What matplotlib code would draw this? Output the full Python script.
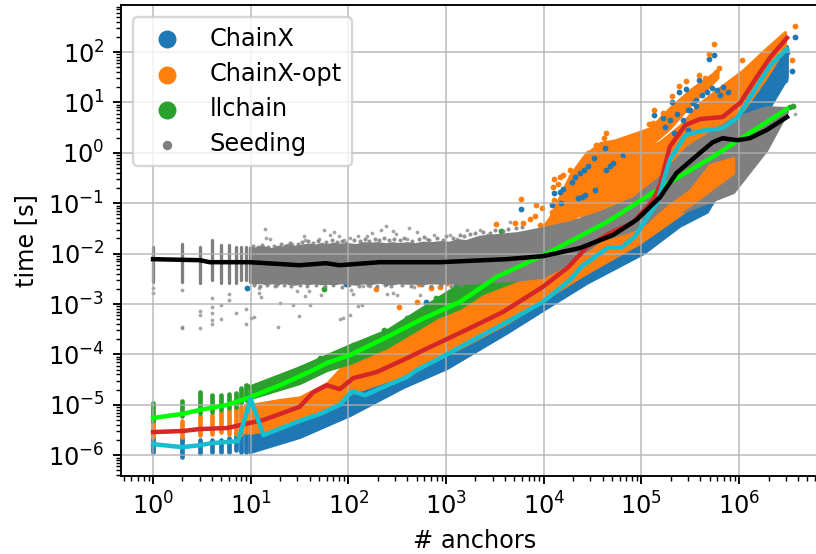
import numpy as np
import matplotlib
matplotlib.use('Agg')
import matplotlib.pyplot as plt
from matplotlib.ticker import LogLocator, NullFormatter

# all values below are log10 of (# anchors) and log10 of (time [s])

# median lines
black_x = [0, .48, .58, .99, 1.50, 1.77, 1.91, 2.32, 2.94, 3.62, 3.99, 4.37, 4.71, 4.95, 5.19, 5.36, 5.60, 5.73, 5.83, 5.98, 6.11, 6.28, 6.49]
black_y = [-2.11, -2.13, -2.17, -2.17, -2.23, -2.19, -2.23, -2.17, -2.17, -2.11, -2.05, -1.89, -1.63, -1.33, -.88, -.40, 0, .21, .29, .25, .29, .45, .71]
lime_x = [0, .30, .48, .76, .99, 1.30, 1.64, 1.78, 2.02, 2.40, 2.73, 3.14, 3.52, 4.06, 4.65, 5.19, 5.73, 6.49]
lime_y = [-5.26, -5.18, -5.10, -5.0, -4.85, -4.61, -4.31, -4.17, -4.01, -3.65, -3.32, -2.96, -2.46, -1.97, -1.37, -.70, -.08, .87]
red_x = [0, .30, .48, .76, .99, 1.13, 1.50, 1.64, 1.78, 1.91, 2.05, 2.29, 2.56, 2.84, 3.21, 3.58, 3.99, 4.25, 4.44, 4.68, 4.91, 5.12, 5.19, 5.29, 5.45, 5.60, 5.83, 6.01, 6.18, 6.32, 6.49]
red_y = [-5.54, -5.52, -5.48, -5.46, -5.36, -5.30, -5.04, -4.75, -4.61, -4.69, -4.47, -4.35, -4.11, -3.85, -3.51, -3.16, -2.66, -2.27, -1.87, -1.59, -1.39, -.94, -.64, .12, .55, .67, .71, .99, 1.50, 1.90, 2.28]
cyan_x = [0, .30, .48, .60, .87, 1.00, 1.13, 1.50, 1.71, 1.91, 2.04, 2.17, 2.40, 2.60, 2.70, 2.94, 3.28, 3.60, 3.99, 4.27, 4.39, 4.65, 4.80, 4.93, 5.09, 5.16, 5.29, 5.45, 5.60, 5.83, 5.98, 6.14, 6.32, 6.49]
cyan_y = [-5.78, -5.84, -5.80, -5.76, -5.72, -4.88, -5.60, -5.32, -5.18, -5.0, -4.73, -4.81, -4.61, -4.45, -4.31, -4.07, -3.71, -3.38, -2.96, -2.52, -2.25, -1.89, -1.87, -1.67, -1.19, -1.0, -.14, .35, .43, .49, .69, 1.19, 1.74, 2.06]

# columns of points at 1..9 anchors
col_x = [1, 2, 3, 4, 5, 6, 7, 8, 9]
col_gray_lo = [-2.56, -2.56, -2.59, -2.52, -2.59, -2.59, -2.59, -2.52, -2.52]
col_gray_hi = [-1.86, -1.80, -1.86, -1.73, -1.83, -1.83, -1.86, -1.86, -1.86]
col_blue_lo = [-5.93, -6.03, -5.96, -5.93, -5.93, -5.93, -5.90, -5.93, -5.93]
col_blue_hi = [-5.66, -5.66, -5.70, -5.70, -5.70, -5.66, -5.60, -5.57, -5.57]
col_orange_lo = [-5.63, -5.63, -5.60, -5.57, -5.53, -5.57, -5.57, -5.57, -5.53]
col_orange_hi = [-5.30, -5.33, -5.23, -5.20, -5.14, -5.10, -5.04, -5.04, -5.00]
col_green_lo = [-5.33, -5.23, -5.17, -5.14, -5.10, -5.07, -5.04, -4.97, -4.90]
col_green_hi = [-4.97, -4.92, -4.75, -4.80, -4.80, -4.79, -4.77, -4.67, -4.61]

# dense parts of the clouds
blue_x = [.99, 1.50, 2.02, 2.56, 3.01, 3.62, 3.99, 4.44, 5.02, 5.39, 5.67, 6.49]
blue_lo = [-5.94, -5.64, -5.20, -4.65, -4.27, -3.57, -3.12, -2.58, -1.99, -1.45, -1.17, 1.49]
blue_hi = [-5.54, -5.30, -4.75, -4.39, -3.95, -3.36, -2.88, -2.36, -1.73, -.74, .06, 2.12]
orange_x = [.99, 1.30, 1.50, 1.78, 2.02, 2.56, 3.14, 3.62, 3.99, 4.44, 4.98, 5.32, 5.60]
orange_lo = [-5.56, -5.46, -5.30, -5.06, -4.77, -4.41, -3.87, -3.38, -2.92, -2.38, -1.79, -1.33, -.94]
orange_hi = [-5.0, -4.90, -4.85, -4.57, -4.07, -3.61, -3.12, -2.56, -2.42, -1.73, -.94, -.54, .06]
stripe_a_x = [3.86, 4.06, 4.27, 4.42, 4.58, 4.73, 4.88, 5.09, 5.29, 5.50, 5.78]
stripe_a_hi = [-1.79, -1.29, -.44, -.04, .20, .25, .35, .49, .89, 1.25, 1.64]
stripe_a_lo = [-2.2, -2.0, -1.43, -1.03, -.64, -.24, -.04, .15, .49, .95, 1.49]
stripe_b_x = [4.34, 4.47, 4.61, 4.78, 4.98, 5.19, 5.40, 5.60, 5.80, 6.04, 6.26, 6.47]
stripe_b_hi = [-.78, -.44, -.14, -.10, -.0, .22, .55, .99, 1.29, 1.64, 2.04, 2.40]
stripe_b_lo = [-1.23, -1.30, -1.30, -1.30, -.85, -.50, -.10, .30, .55, .85, 1.45, 2.10]
patch_x = [5.09, 5.29, 5.50, 5.70, 5.94]
patch_hi = [-1.37, -1.03, -.74, -.24, -.10]
patch_lo = [-1.57, -1.29, -1.03, -.74, -.40]
green_x = [.99, 1.50, 1.78, 2.02, 2.40, 2.91, 3.14, 3.38, 3.73]
green_hi = [-4.63, -4.25, -4.01, -3.81, -3.51, -2.88, -2.60, -2.52, -2.50]
green_lo = [-4.87, -4.57, -4.31, -4.17, -3.85, -3.26, -3.08, -2.78, -2.52]
gray_x = [.99, 1.04, 1.10, 1.15, 1.22, 1.28, 1.33, 1.38, 1.45, 1.52, 1.58, 1.66, 1.72, 1.78, 1.85, 1.92, 2.0, 2.08, 2.15, 2.22, 2.3, 2.38, 2.45, 2.52, 2.6, 2.68, 2.76, 2.84, 2.94, 3.03, 3.12, 3.2, 3.28, 3.35,
          3.73, 3.99, 4.27, 4.58, 4.91, 5.19, 5.47, 5.94, 6.28, 6.49]
gray_hi = [-1.88, -1.90, -1.87, -1.88, -1.91, -1.86, -1.88, -1.84, -1.86, -1.84, -1.82, -1.84, -1.81, -1.83, -1.80, -1.82, -1.81, -1.83, -1.79, -1.80, -1.79, -1.81, -1.79, -1.81, -1.79, -1.81, -1.78, -1.79, -1.77, -1.78, -1.73, -1.75, -1.70, -1.66,
           -1.59, -1.49, -1.37, -1.17, -.90, -.48, .12, .69, .91, .89]
gray_lo = [-2.56, -2.58, -2.56, -2.59, -2.57, -2.59, -2.56, -2.58, -2.60, -2.57, -2.59, -2.57, -2.59, -2.58, -2.59, -2.57, -2.58, -2.60, -2.57, -2.59, -2.56, -2.58, -2.59, -2.57, -2.58, -2.58, -2.59, -2.57, -2.58, -2.57, -2.59, -2.58, -2.58, -2.56,
           -2.52, -2.46, -2.17, -1.73, -1.53, -1.23, -1.14, -.78, .06, .81]

# single points
gray_pts_x = [1.15, 1.16, 1.20, 1.13, 1.42, 1.55, 1.56, 1.75, 1.70, 1.81, 1.85, 1.90, 1.95, 2.02, 2.10, 2.19, 2.24, 2.33, 2.39, 2.46, 2.49, 2.62, 2.70, 2.80, 2.88, 3.04, 3.21, 3.35, 3.42, 3.65, 3.69, 3.11, 2.60, 1.37, 1.61, 1.73,
              1.08, 1.08, 1.11, 1.30, 1.43, 1.61, 1.47, 1.56, 1.60, 1.72, 2.03, 2.05, 2.10, 2.14, 2.15, 2.22, 2.40, 2.46, 2.50, 2.67, 1.39, 1.27, 2.73,
              .30, .30, .30, .48, .48, .48, .60, .60, .60, .60, .60, .70, .70, .78, .78, .85, .95, .95, 0, 0, 1.03, 1.0, 1.49, 1.28, 1.91, 1.94, 2.02, 6.57]
gray_pts_y = [-1.52, -1.68, -1.71, -1.86, -1.80, -1.66, -1.73, -1.53, -1.71, -1.63, -1.58, -1.66, -1.73, -1.68, -1.66, -1.66, -1.60, -1.53, -1.45, -1.56, -1.62, -1.50, -1.58, -1.71, -1.64, -1.63, -1.53, -1.53, -1.63, -1.37, -1.63, -1.70, -1.70, -1.83, -1.82, -1.80,
              -2.69, -2.79, -2.87, -2.97, -3.01, -3.01, -2.74, -2.85, -2.74, -2.82, -2.72, -2.81, -3.03, -3.01, -2.64, -2.64, -2.81, -2.79, -2.82, -2.66, -2.59, -2.62, -2.82,
              -3.45, -3.48, -2.72, -3.14, -3.22, -3.47, -2.89, -3.05, -3.18, -3.32, -3.40, -3.02, -3.30, -2.80, -2.92, -3.18, -3.10, -3.40, -2.69, -2.79, -3.26, -3.28, -3.24, -3.46, -3.30, -3.28, -3.22, .78]
# fuzz just outside the gray band
fuzz_x = [1.02, 1.07, 1.12, 1.18, 1.24, 1.31, 1.35, 1.40, 1.48, 1.53, 1.59, 1.64, 1.69, 1.77, 1.83, 1.88, 1.93, 1.98, 2.06, 2.12, 2.17, 2.21, 2.27, 2.31, 2.36, 2.42, 2.47, 2.53, 2.57, 2.65, 2.72, 2.77, 2.83, 2.91, 2.97, 3.0, 3.07, 3.14, 3.18, 3.24, 3.30, 3.38, 3.45, 3.50, 3.58, 3.63, 3.72, 3.78,
          1.03, 1.09, 1.17, 1.25, 1.34, 1.41, 1.50, 1.58, 1.67, 1.76, 1.84, 1.93, 2.01, 2.11, 2.2, 2.29, 2.37, 2.44, 2.55, 2.64, 2.75, 2.85, 2.95, 3.05, 3.15]
fuzz_y = [-1.84, -1.86, -1.83, -1.87, -1.84, -1.80, -1.84, -1.78, -1.80, -1.76, -1.75, -1.79, -1.74, -1.76, -1.72, -1.76, -1.74, -1.78, -1.73, -1.75, -1.71, -1.74, -1.70, -1.73, -1.69, -1.72, -1.70, -1.73, -1.69, -1.74, -1.70, -1.67, -1.72, -1.68, -1.72, -1.66, -1.68, -1.64, -1.66, -1.62, -1.60, -1.58, -1.60, -1.54, -1.56, -1.52, -1.50, -1.48,
          -2.62, -2.64, -2.62, -2.65, -2.62, -2.65, -2.62, -2.64, -2.62, -2.65, -2.62, -2.66, -2.62, -2.64, -2.62, -2.65, -2.63, -2.65, -2.62, -2.64, -2.62, -2.64, -2.62, -2.64, -2.62]
orange_pts_x = [3.77, 3.71, 3.79, 3.86, 3.91, 3.92, 3.98, 3.96, 4.10, 4.09, 4.10, 4.17, 4.20, 4.15, 4.08, 4.17, 4.22, 4.27, 4.53, 4.64, 4.62, 4.75, 4.71, 4.45, 4.85, 4.95, 4.80,
                4.27, 4.34, 4.39, 4.20, 4.47, 4.06,
                5.74, 5.69, 6.03, 6.57, 6.54, 5.38, 5.46, 5.59, 5.65, 5.13, 5.22, 5.31, 5.08, 5.12, 5.79, 5.76,
                2.28, 2.52, 2.70, 2.72, 2.85, 2.94, 3.01, 3.51, 3.18]
orange_pts_y = [-.92, -1.40, -1.40, -1.32, -1.25, -1.04, -1.10, -1.43, -.51, -.67, -.94, -.47, -.44, -.61, -1.17, -1.14, -1.17, -.34, .15, .39, .29, .19, .09, -.01, -.01, .06, -.14,
                -1.27, -1.20, -1.13, -1.30, -.94, -1.33,
                2.16, 1.97, 1.84, 2.52, 1.84, 1.33, 1.42, 1.54, 1.48, .84, .80, 1.13, .57, .60, 1.69, 1.61,
                -2.71, -3.05, -2.95, -2.60, -2.68, -2.66, -2.59, -1.42, -2.59]
blue_pts_x = [3.77, 4.10, 4.17, 4.20, 4.08, 4.18, 4.29, 4.32, 4.37, 4.41, 4.45, 4.51, 4.63, 4.64, 4.68, 4.35, 4.39, 4.42, 4.52, 4.81, 4.71,
              5.74, 5.69, 6.57, 6.54, 5.38, 5.46, 5.59, 5.31, 5.13, 5.22, 5.50, 5.43, 5.67, 5.72, 5.80, 5.89, 5.56, 5.48, 5.33, 6.42, 6.47, 6.49, 6.38, 6.35,
              .96, 1.98, 2.39, 2.79, 3.10,
              5.56, 5.62, 5.77, 5.84, 5.48, 5.53, 5.29, 5.36, 5.24]
blue_pts_y = [-1.12, -.80, -.77, -.72, -1.04, -1.0, -.57, -.47, -.41, -.34, -.26, -.11, .09, -.34, -.27, -.90, -.87, -.84, -.74, -.04, -.21,
              1.95, 1.87, 2.29, 1.63, 1.21, 1.26, 1.44, 1.01, .75, .70, .85, .65, 1.21, 1.28, 1.15, 1.21, .92, .45, .39, 1.34, 1.44, 2.01, 1.25, 1.15,
              -2.69, -2.60, -2.58, -2.95, -2.64,
              1.05, 1.15, 1.25, 1.31, .85, .98, .65, .78, .52]
green_pts_x = [1.75, 3.56, 6.55, 6.52, .96, 1.15, 1.30, 1.51, 1.71, 2.05, 2.36, 2.60, 2.90]
green_pts_y = [-2.71, -1.56, .93, .90, -4.63, -4.57, -4.47, -4.26, -4.08, -3.81, -3.51, -3.28, -2.89]

x_ticks = [1, 10, 100, 1000, 1e4, 1e5, 1e6]
y_ticks = [1e-6, 1e-5, 1e-4, 1e-3, 1e-2, 1e-1, 1, 10, 100]

plt.rcParams['font.size'] = 10.15
fig = plt.figure(figsize=(816 / 170, 554 / 170), dpi=170)
ax = fig.add_axes([121 / 816, 78 / 554, 707 / 816, 471 / 554])


def band(x, lo, hi, color, z):
    ax.fill_between(10.0 ** np.array(x), 10.0 ** np.array(lo), 10.0 ** np.array(hi),
                    color=color, lw=1.2, zorder=z)


def dots(x, y, color, size, z, alpha=1):
    ax.scatter(10.0 ** np.array(x), 10.0 ** np.array(y), s=size, color=color,
               linewidths=0, alpha=alpha, zorder=z)


def columns(lo, hi, color, z, width=2.0):
    ax.vlines(col_x, 10.0 ** np.array(lo), 10.0 ** np.array(hi), color=color,
              lw=width, capstyle='round', zorder=z)


band(blue_x, blue_lo, blue_hi, 'tab:blue', 1.1)
columns(col_blue_lo, col_blue_hi, 'tab:blue', 1.1)
band(orange_x, orange_lo, orange_hi, 'tab:orange', 1.2)
band(stripe_a_x, stripe_a_lo, stripe_a_hi, 'tab:orange', 1.2)
band(stripe_b_x, stripe_b_lo, stripe_b_hi, 'tab:orange', 1.2)
columns(col_orange_lo, col_orange_hi, 'tab:orange', 1.2)
dots(blue_pts_x, blue_pts_y, 'tab:blue', 6, 1.25)
dots(orange_pts_x, orange_pts_y, 'tab:orange', 6, 1.3)
band(green_x, green_lo, green_hi, 'tab:green', 1.3)
columns(col_green_lo, col_green_hi, 'tab:green', 1.3)
dots(green_pts_x, green_pts_y, 'tab:green', 6, 1.3)
band(gray_x, gray_lo, gray_hi, 'tab:gray', 1.4)
columns(col_gray_lo, col_gray_hi, 'tab:gray', 1.4, width=1.4)
dots(gray_pts_x, gray_pts_y, 'tab:gray', 2.5, 1.4, alpha=0.7)
dots(fuzz_x, fuzz_y, 'tab:gray', 3, 1.4, alpha=0.85)
band(patch_x, patch_lo, patch_hi, 'tab:orange', 1.5)

ax.plot(10.0 ** np.array(lime_x), 10.0 ** np.array(lime_y), color='lime', lw=1.9, zorder=5)
ax.plot(10.0 ** np.array(red_x), 10.0 ** np.array(red_y), color='tab:red', lw=1.9, zorder=5)
ax.plot(10.0 ** np.array(cyan_x), 10.0 ** np.array(cyan_y), color='tab:cyan', lw=1.9, zorder=5)
ax.plot(10.0 ** np.array(black_x), 10.0 ** np.array(black_y), color='black', lw=1.9, zorder=5)

ax.set_xscale('log')
ax.set_yscale('log')
ax.set_xticks(x_ticks)
ax.set_yticks(y_ticks)
ax.yaxis.set_minor_locator(LogLocator(base=10, subs=range(2, 10), numticks=12))
ax.yaxis.set_minor_formatter(NullFormatter())
ax.xaxis.set_minor_locator(LogLocator(base=10, subs=range(2, 10), numticks=12))
ax.xaxis.set_minor_formatter(NullFormatter())
ax.set_xlim(10 ** -0.328, 10 ** 6.91)
ax.set_ylim(10 ** -6.412, 10 ** 2.933)
ax.grid(True, color='#b0b0b0', alpha=0.7, lw=0.8, zorder=2.5)
ax.set_xlabel('# anchors')
ax.set_ylabel('time [s]')

ax.scatter([], [], s=58, color='tab:blue', linewidths=0, label='ChainX')
ax.scatter([], [], s=58, color='tab:orange', linewidths=0, label='ChainX-opt')
ax.scatter([], [], s=58, color='tab:green', linewidths=0, label='llchain')
ax.scatter([], [], s=16, color='tab:gray', linewidths=0, label='Seeding')
leg = ax.legend(loc='upper left', labelspacing=0.47, scatterpoints=1)
leg.set_zorder(10)

fig.savefig('out.png', dpi=170)
